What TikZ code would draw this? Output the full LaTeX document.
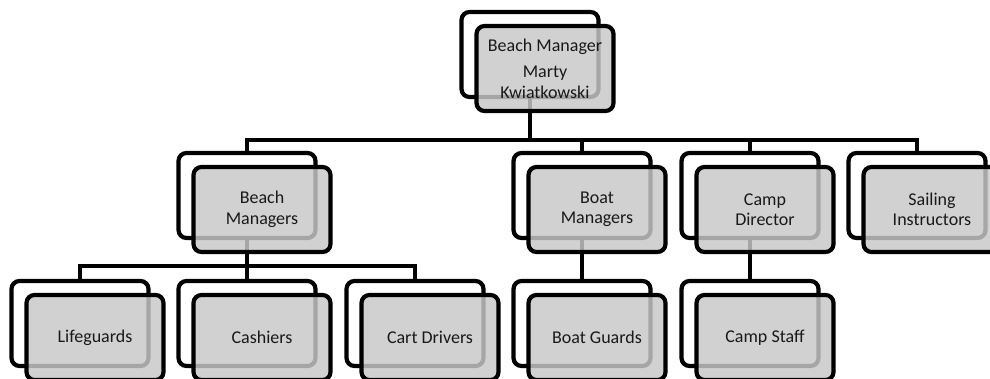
\documentclass[tikz,border=0pt]{standalone}
\usepackage{fontspec}
\setmainfont{Carlito}
\definecolor{frontfill}{RGB}{200,200,200}
\definecolor{txt}{RGB}{25,25,25}
\tikzset{
  backbox/.style={draw=black, line width=4.2pt, rounded corners=8pt,
    minimum width=137pt, minimum height=85pt, inner sep=0pt, fill=white},
  frontbox/.style={backbox, fill=frontfill, fill opacity=0.83, text opacity=1,
    text=txt, align=center, font=\fontsize{18}{20.5}\selectfont},
  conn/.style={line width=4.2pt},
}
\begin{document}
\begin{tikzpicture}[x=1pt,y=-1pt]
\useasboundingbox (0,0) rectangle (990,379);
% back boxes
\node[backbox] (top-b) at (530,54.5) {};
\node[backbox] (bm-b) at (247,195.5) {};
\node[backbox] (bt-b) at (582,195.5) {};
\node[backbox] (cp-b) at (750,195.5) {};
\node[backbox] (si-b) at (917,195.5) {};
\node[backbox] (lg-b) at (80,323.5) {};
\node[backbox] (cs-b) at (247,323.5) {};
\node[backbox] (cd-b) at (415,323.5) {};
\node[backbox] (bg-b) at (582,323.5) {};
\node[backbox] (st-b) at (750,323.5) {};
% bus coordinates
\coordinate (bus1) at (530,140);
\coordinate (bus2) at (247,266);
% connectors
\draw[conn] (top-b.south) -- (bus1) -| (bm-b.north);
\draw[conn] (top-b.south) -- (bus1) -| (bt-b.north);
\draw[conn] (top-b.south) -- (bus1) -| (cp-b.north);
\draw[conn] (top-b.south) -- (bus1) -| (si-b.north);
\draw[conn] (bm-b.south) -- (bus2) -| (lg-b.north);
\draw[conn] (bm-b.south) -- (cs-b.north);
\draw[conn] (bm-b.south) -- (bus2) -| (cd-b.north);
\draw[conn] (bt-b.south) -- (bg-b.north);
\draw[conn] (cp-b.south) -- (st-b.north);
% front boxes
\node[frontbox] (top) at (545,68.5) {Beach Manager\\[6pt]Marty\\Kwiatkowski};
\node[frontbox] (bm) at (262,209.5) {Beach\\Managers};
\node[frontbox] (bt) at (597,209.5) {Boat\\Managers};
\node[frontbox] (cp) at (765,209.5) {Camp\\Director};
\node[frontbox] (si) at (932,209.5) {Sailing\\Instructors};
\node[frontbox] (lg) at (95,337.5) {Lifeguards};
\node[frontbox] (cs) at (262,337.5) {Cashiers};
\node[frontbox] (cd) at (430,337.5) {Cart Drivers};
\node[frontbox] (bg) at (597,337.5) {Boat Guards};
\node[frontbox] (st) at (765,337.5) {Camp Staff};
\end{tikzpicture}
\end{document}
